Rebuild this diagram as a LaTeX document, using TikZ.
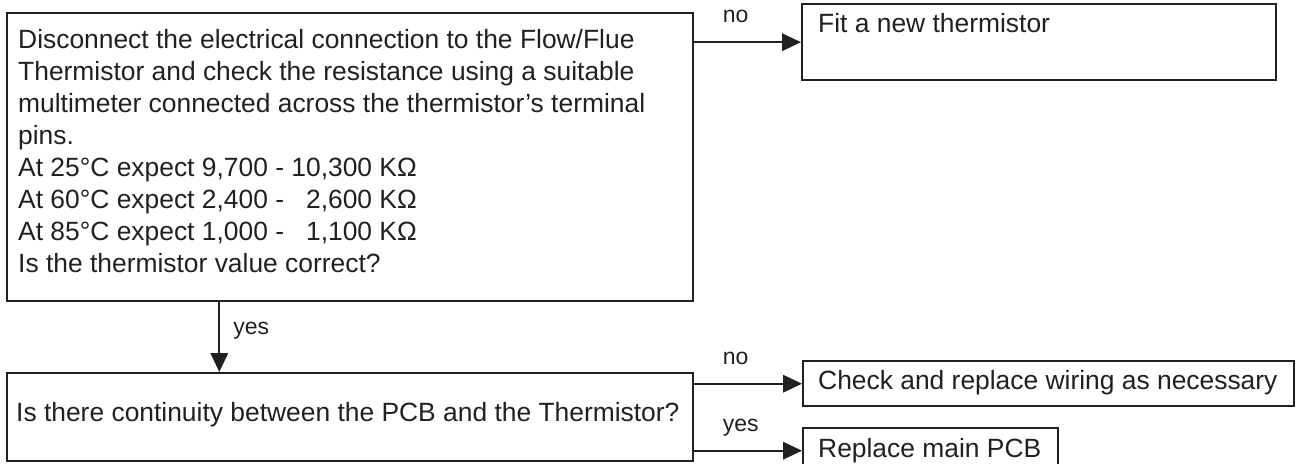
\documentclass[tikz,border=0pt]{standalone}
\usepackage{fontspec}
\setmainfont{Liberation Sans}
\usetikzlibrary{arrows.meta}
\definecolor{ink}{RGB}{35,31,32}
% multi-line box text: height, text width, first baseline, text
\newcommand{\mymultibx}[4]{\vbox to #1{\hsize=#2\relax\parindent=0pt\parskip=0pt\raggedright\rule{0pt}{#3}#4\par\vss}}
% single-line box text: height, width, baseline, text
\newcommand{\myonebx}[4]{\vbox to #1{\hbox to #2{\rule{0pt}{#3}#4\hss}\vss}}
\tikzset{
  bx/.style={draw=ink, line width=1.2pt, inner sep=0pt, anchor=north west},
  arr/.style={draw=ink, line width=1.1pt, -{Triangle[length=9.5pt,width=8.7pt]}},
  lbl/.style={font=\fontsize{11.5pt}{13pt}\selectfont, text=ink, inner sep=0pt, text depth=0pt},
}
\begin{document}
\begin{tikzpicture}[x=0.5pt,y=-0.5pt, font=\fontsize{13.2pt}{16pt}\selectfont, text=ink]
\clip (0,0) rectangle (1296,463);
\node[bx, inner xsep=5.5pt] (A) at (6,12) {\mymultibx{144pt}{332pt}{17.5pt}{%
Disconnect the electrical connection to the Flow/Flue\\
Thermistor and check the resistance using a suitable\\
multimeter connected across the thermistor’s terminal\\
pins.\\
At 25°C expect 9,700 - 10,300 KΩ\\
At 60°C expect 2,400 - \phantom{1}2,600 KΩ\\
At 85°C expect 1,000 - \phantom{1}1,100 KΩ\\
Is the thermistor value correct?}};
\node[bx, inner xsep=8pt] (Fit) at (801,3) {\myonebx{38pt}{221pt}{14.35pt}{Fit a new thermistor}};
\node[bx, inner xsep=4.5pt] (B) at (6,372) {\myonebx{44pt}{334pt}{24.3pt}{Is there continuity between the PCB and the Thermistor?}};
\node[bx, inner xsep=7.5pt] (Chk) at (802,360) {\myonebx{22.5pt}{230.5pt}{14.1pt}{Check and replace wiring as necessary}};
\node[bx, inner xsep=7.5pt] (Rep) at (802,427) {\myonebx{22.5pt}{112.5pt}{14.6pt}{Replace main PCB}};

\draw[arr] (A.east |- Fit.west) -- (Fit.west)
  node[lbl, pos=0, anchor=south west, xshift=13.65pt, yshift=9.2pt] {no};
\draw[arr] ([xshift=106.65pt]A.south west) -- ([xshift=106.65pt]B.north west)
  node[lbl, pos=0.375, anchor=west, xshift=6.5pt] {yes};
\draw[arr] (B.east |- Chk.west) -- (Chk.west)
  node[lbl, pos=0, anchor=south west, xshift=13.65pt, yshift=9.2pt] {no};
\draw[arr] (B.east |- Rep.west) -- (Rep.west)
  node[lbl, pos=0, anchor=south west, xshift=13.65pt, yshift=9.2pt] {yes};
\end{tikzpicture}
\end{document}
